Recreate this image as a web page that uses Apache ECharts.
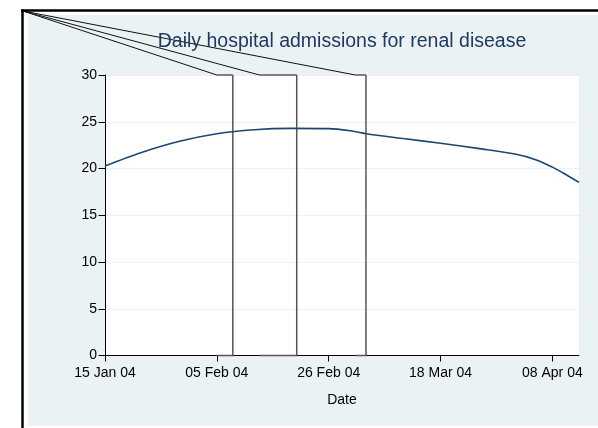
<!DOCTYPE html>
<html>
<head>
<meta charset="utf-8">
<script src="https://cdn.jsdelivr.net/npm/echarts@6/dist/echarts.min.js"></script>
<style>html,body{margin:0;padding:0;background:#fff}#c{width:598px;height:428px}</style>
</head>
<body>
<div id="c"></div>
<script>
// ---- data ----
var originDate = '2004-01-15';
var endDate = '2004-04-13';
var curveDates = ['2004-01-15','2004-01-22','2004-01-29','2004-02-05','2004-02-12','2004-02-19','2004-02-26','2004-03-01','2004-03-04','2004-03-11','2004-03-18','2004-03-25','2004-04-01','2004-04-05','2004-04-08','2004-04-10','2004-04-13'];
var curveValues = [20.28,21.75,22.92,23.72,24.15,24.29,24.26,24.03,23.72,23.20,22.70,22.15,21.55,20.92,20.15,19.52,18.52];
var rectStarts = ['2004-02-05','2004-02-13','2004-03-02'];
var rectEnds = ['2004-02-08','2004-02-20','2004-03-04'];
var rectTops = [30,30,30];
var rectBottoms = [0,0,0];
var xTickDates = ['2004-01-15','2004-02-05','2004-02-26','2004-03-18','2004-04-08'];
var yTicks = [0,5,10,15,20,25,30];
var titleText = 'Daily hospital admissions for renal disease';
var xTitle = 'Date';

// ---- helpers ----
var DAY = 86400000;
function dayOf(s){ return (Date.parse(s + 'T00:00:00Z') - Date.parse(originDate + 'T00:00:00Z')) / DAY; }
var MON = ['Jan','Feb','Mar','Apr','May','Jun','Jul','Aug','Sep','Oct','Nov','Dec'];
function fmtDay(d){
  var dt = new Date(Date.parse(originDate + 'T00:00:00Z') + Math.round(d) * DAY);
  var dd = ('0' + dt.getUTCDate()).slice(-2);
  var yy = ('0' + (dt.getUTCFullYear() % 100)).slice(-2);
  return dd + ' ' + MON[dt.getUTCMonth()] + ' ' + yy;
}

var curveData = curveDates.map(function(d,i){ return [dayOf(d), curveValues[i]]; });
var rectData = rectStarts.map(function(s,i){ return [dayOf(s), dayOf(rectEnds[i]), rectTops[i], rectBottoms[i]]; });
var xTickVals = xTickDates.map(dayOf);

var FONT = '"Liberation Sans", Arial, sans-serif';
var corner = [23, 11];
var gridLeft = 105, gridTop = 75, gridW = 474, gridH = 280.5;

var chart = echarts.init(document.getElementById('c'), null, {renderer:'canvas'});
chart.setOption({
  backgroundColor: '#ffffff',
  animation: false,
  graphic: [
    {type:'rect', z:-100, shape:{x:28, y:15, width:580, height:411}, style:{fill:'#EAF2F3'}, silent:true},
    {type:'line', z:100, shape:{x1:21, y1:10.5, x2:600, y2:10.5}, style:{stroke:'#000', lineWidth:2.5}, silent:true},
    {type:'line', z:100, shape:{x1:22.5, y1:9.5, x2:22.5, y2:430}, style:{stroke:'#000', lineWidth:2.5}, silent:true},
    {type:'text', z:50, x: gridLeft + gridW/2, y: 42, style:{text: titleText, fill:'#1e3a60', font: '19.5px ' + FONT, textAlign:'center', textVerticalAlign:'middle'}, silent:true}
  ],
  grid: {left: gridLeft, top: gridTop, width: gridW, height: gridH, show: true, backgroundColor: '#ffffff', borderWidth: 0, containLabel: false},
  xAxis: {
    type: 'value', min: 0, max: dayOf(endDate),
    name: xTitle, nameLocation: 'middle', nameGap: 38,
    nameTextStyle: {fontSize: 14, color: '#000', fontFamily: FONT},
    axisLine: {show: true, lineStyle: {color: '#000', width: 1}},
    axisTick: {show: true, length: 6, lineStyle: {color: '#000'}, customValues: xTickVals},
    axisLabel: {show: true, fontSize: 14, color: '#000', fontFamily: FONT, margin: 11, customValues: xTickVals, formatter: function(v){ return fmtDay(v); }},
    splitLine: {show: false}
  },
  yAxis: {
    type: 'value', min: yTicks[0], max: yTicks[yTicks.length-1], interval: yTicks[1]-yTicks[0],
    axisLine: {show: true, lineStyle: {color: '#000', width: 1}},
    axisTick: {show: true, length: 6.5, lineStyle: {color: '#000'}},
    axisLabel: {fontSize: 14, color: '#000', fontFamily: FONT, margin: 8},
    splitLine: {show: true, lineStyle: {color: '#EAF2F3', width: 1}}
  },
  series: [
    {
      type: 'custom', clip: false, z: 3,
      encode: {x: [0,1], y: [2,3]},
      data: rectData,
      renderItem: function(params, api){
        var s = api.value(0), e = api.value(1), t = api.value(2), b = api.value(3);
        var tl = api.coord([s, t]), tr = api.coord([e, t]), br = api.coord([e, b]), bl = api.coord([s, b]);
        return {type:'group', children:[
          {type:'polyline', shape:{points:[corner, tl, tr]}, style:{stroke:'#111', lineWidth:1, fill:null}},
          {type:'polyline', shape:{points:[tr, br, bl]}, style:{stroke:'#555', lineWidth:1.5, fill:null}}
        ]};
      }
    },
    {
      type: 'line', z: 4, data: curveData, showSymbol: false, smooth: 0.3,
      lineStyle: {color: '#1A476F', width: 1.6}
    }
  ]
});
</script>
</body>
</html>
